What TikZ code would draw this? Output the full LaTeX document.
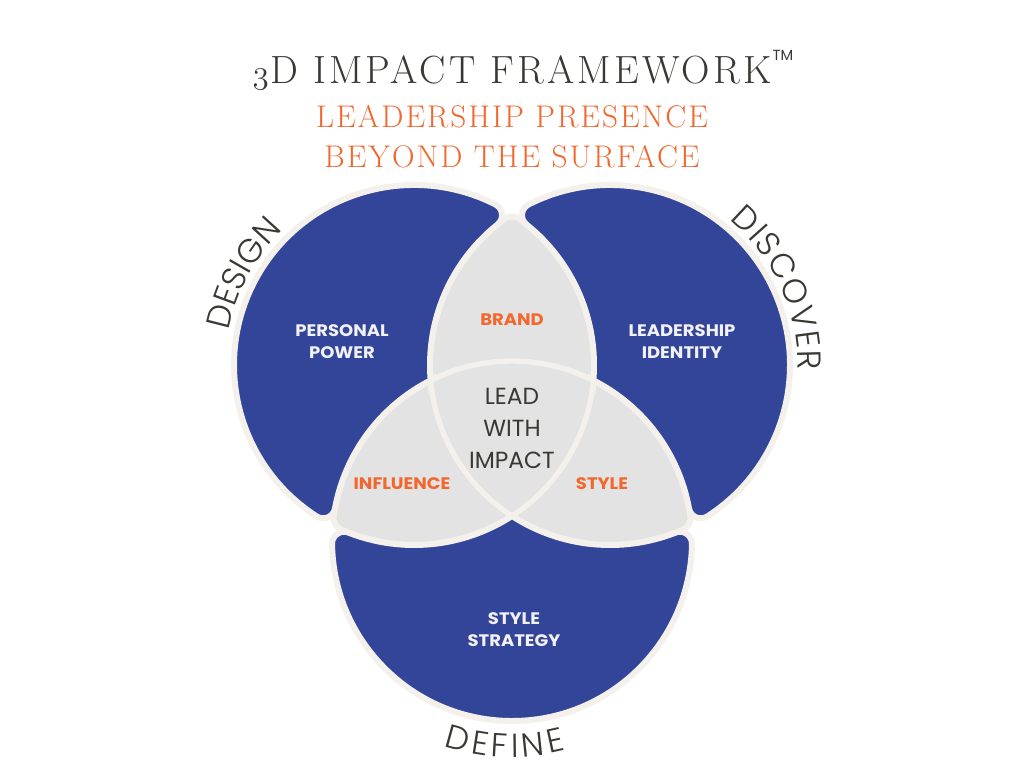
\documentclass[tikz,border=0pt]{standalone}
\usepackage{fontspec}
\usepackage{xcolor}
\usepackage{tikz}
\usetikzlibrary{decorations.text}

\newfontfamily\labelfont{Poppins}[FakeStretch=1.08]
\newfontfamily\corefont{Poppins}
\newfontfamily\lightfont{Poppins Light}
\newfontfamily\headfont{lmroman17-regular.otf}[LetterSpace=8]
\newfontfamily\subfont{lmroman17-regular.otf}[LetterSpace=6.3]

\definecolor{venblue}{HTML}{334598}
\definecolor{vengray}{HTML}{E3E3E3}
\definecolor{ringcol}{HTML}{F4F1EC}
\definecolor{accent}{HTML}{F2672E}
\definecolor{ink}{HTML}{383834}
\definecolor{paper}{HTML}{F2F1F6}

\newcommand{\wordfont}{\lightfont\fontsize{25}{30}\selectfont\color{ink}}

\begin{document}
\begin{tikzpicture}[
  x=0.75pt, y=-0.75pt,
  region/.style={draw=ringcol, line width=4.5pt},
  blueseg/.style={region, fill=venblue},
  grayseg/.style={region, fill=vengray},
  whitelbl/.style={font=\labelfont\bfseries\fontsize{12.5}{16.5}\selectfont,
                   text=paper, align=center},
  hotlbl/.style={font=\labelfont\bfseries\fontsize{12.5}{16.5}\selectfont,
                 text=accent},
  corelbl/.style={font=\corefont\fontsize{17.5}{24}\selectfont,
                  text=ink, align=center},
  curveword/.style={decorate, decoration={text along path,
                    text align={fit to path}, text={|\wordfont|#1}}}
]
  \useasboundingbox (0,0) rectangle (1024,768);

  % circle centres
  \coordinate (A) at (414,365);
  \coordinate (B) at (610,365);
  \coordinate (C) at (512,541);

  % grey overlap zone (outer corners rounded)
  \path[grayseg] (C) ++(243.14:180)
    arc[start angle=243.14, end angle=187.73, radius=180]
    arc[start angle=187.73, end angle=114.05, radius=12]
    arc[start angle=114.05, end angle=57.01, radius=180]
    arc[start angle=122.99, end angle=65.95, radius=180]
    arc[start angle=65.95, end angle=-7.73, radius=12]
    arc[start angle=-7.73, end angle=-63.14, radius=180]
    arc[start angle=4.92, end angle=-54.32, radius=180]
    arc[start angle=-54.32, end angle=-125.68, radius=12]
    arc[start angle=234.32, end angle=175.08, radius=180] -- cycle;

  % blue outer parts
  \path[blueseg] (B) ++(175.08:180)
    arc[start angle=175.08, end angle=231.31, radius=180]
    arc[start angle=51.31, end angle=-63.11, radius=12]
    arc[start angle=-63.11, end angle=-237.27, radius=180]
    arc[start angle=122.73, end angle=10.40, radius=12]
    arc[start angle=190.40, end angle=243.14, radius=180] -- cycle;
  \path[blueseg] (A) ++(4.92:180)
    arc[start angle=4.92, end angle=-51.31, radius=180]
    arc[start angle=128.69, end angle=243.11, radius=12]
    arc[start angle=-116.89, end angle=57.27, radius=180]
    arc[start angle=57.27, end angle=169.60, radius=12]
    arc[start angle=-10.40, end angle=-63.14, radius=180] -- cycle;
  \path[blueseg] (A) ++(57.01:180)
    arc[start angle=57.01, end angle=111.37, radius=180]
    arc[start angle=-68.63, end angle=-180.95, radius=12]
    arc[start angle=179.05, end angle=0.95, radius=180]
    arc[start angle=0.95, end angle=-111.37, radius=12]
    arc[start angle=68.63, end angle=122.99, radius=180] -- cycle;

  % centre lens lines
  \draw[draw=ringcol, line width=4pt] (C) ++(-116.86:180)
    arc[start angle=-116.86, end angle=-63.14, radius=180]
    arc[start angle=4.92, end angle=57.01, radius=180]
    arc[start angle=122.99, end angle=175.08, radius=180] -- cycle;

  % headings
  \node[anchor=base, text=ink, font=\headfont\fontsize{29.5}{36}\selectfont] (title) at (512,83)
    {{\usefont{OML}{cmm}{m}{it}3}\kern1pt D IMPACT FRAMEWORK\rlap{\kern1pt\raisebox{17pt}{\corefont\fontsize{11}{11}\selectfont TM}}};
  \node[anchor=base, text=accent, font=\subfont\fontsize{23.5}{30}\selectfont] (sub1) at (512,127) {LEADERSHIP PRESENCE};
  \node[anchor=base, text=accent, font=\subfont\fontsize{23.5}{30}\selectfont] (sub2) at ([yshift=-30pt]sub1.base) {BEYOND THE SURFACE};

  % region labels
  \node[whitelbl] (power) at (342,342) {PERSONAL\\POWER};
  \node[whitelbl] (identity) at (682,342) {LEADERSHIP\\IDENTITY};
  \node[whitelbl] (strategy) at (514,630) {STYLE\\STRATEGY};
  \node[hotlbl] (brand) at (512,320) {BRAND};
  \node[hotlbl] (influence) at (402,484) {INFLUENCE};
  \node[hotlbl] (style) at (602,484) {STYLE};
  \node[corelbl] (lead) at (512,428) {LEAD\\WITH\\IMPACT};

  % words round the rings
  \path[curveword=DESIGN] (A) ++(-169.5:188) arc[start angle=-169.5, end angle=-135, radius=188];
  \path[curveword=DISCOVER] (B) ++(-50.5:188) arc[start angle=-50.5, end angle=1.5, radius=188];
  \path[curveword=DEFINE] (C) ++(108.5:216) arc[start angle=108.5, end angle=75.5, radius=216];
\end{tikzpicture}
\end{document}
